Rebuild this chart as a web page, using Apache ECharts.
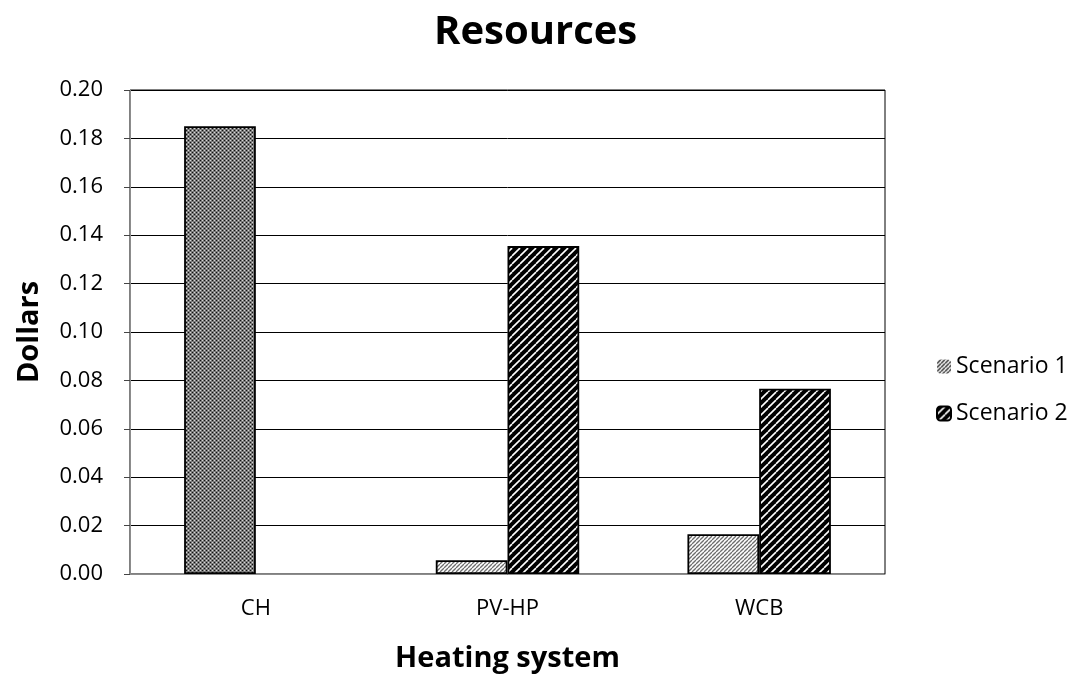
<!DOCTYPE html>
<html><head><meta charset="utf-8">
<script src="https://cdn.jsdelivr.net/npm/echarts@6/dist/echarts.min.js"></script>
<style>html,body{margin:0;padding:0;background:#fff}#c{width:1085px;height:678px}</style>
</head><body><div id="c"></div>
<script>
const categories = ['CH', 'PV-HP', 'WCB'];
const seriesNames = ['Scenario 1', 'Scenario 2'];
const scenario1 = [0.185, 0.0057, 0.0164];
const scenario2 = [null, 0.1355, 0.0766];
const yTicks = [0, 0.02, 0.04, 0.06, 0.08, 0.10, 0.12, 0.14, 0.16, 0.18, 0.20];

function stripe(p, bg, fg, lw) {
  const c = document.createElement('canvas');
  c.width = p; c.height = p;
  const x = c.getContext('2d');
  x.fillStyle = bg; x.fillRect(0, 0, p, p);
  x.strokeStyle = fg; x.lineWidth = lw;
  for (let k = -1; k <= 1; k++) {
    x.beginPath();
    x.moveTo(k * p, p); x.lineTo(k * p + p, 0);
    x.stroke();
  }
  return c;
}
function cross() {
  const c = document.createElement('canvas');
  c.width = 4; c.height = 4;
  const x = c.getContext('2d');
  x.fillStyle = '#7a7a7a'; x.fillRect(0, 0, 4, 4);
  x.fillStyle = '#111';
  x.fillRect(0, 0, 1, 1); x.fillRect(2, 2, 1, 1);
  x.fillStyle = '#d8d8d8';
  x.fillRect(2, 0, 1, 1); x.fillRect(0, 2, 1, 1);
  return c;
}
const pat1 = { image: stripe(4, '#ffffff', '#6e6e6e', 1.3), repeat: 'repeat' };
const pat1Legend = { image: stripe(4, '#ffffff', '#333333', 1.5), repeat: 'repeat' };
const pat2 = { image: stripe(8, '#000000', '#ffffff', 1.6), repeat: 'repeat' };
const patCH = { image: cross(), repeat: 'repeat' };

const s1Data = scenario1.map((v, i) => i === 0
  ? { value: v, itemStyle: { color: patCH } }
  : v);

const FONT = 'Open Sans';
const chart = echarts.init(document.getElementById('c'));
chart.setOption({
  animation: false,
  title: {
    text: 'Resources', left: 429, top: 8,
    textStyle: { fontFamily: FONT, fontWeight: 'bold', fontSize: 40, color: '#000' }
  },
  legend: {
    orient: 'vertical', left: 931, top: 350, itemGap: 24,
    itemWidth: 14, itemHeight: 14,
    textStyle: { fontFamily: FONT, fontSize: 23, color: '#000' },
    data: [
      { name: seriesNames[0], itemStyle: { color: pat1Legend, borderWidth: 0 } },
      { name: seriesNames[1] }
    ]
  },
  grid: { left: 130, right: 200, top: 90, bottom: 100, show: true, borderColor: '#000', borderWidth: 1 },
  xAxis: {
    type: 'category', data: categories,
    name: 'Heating system', nameLocation: 'middle', nameGap: 70,
    nameTextStyle: { fontFamily: FONT, fontWeight: 'bold', fontSize: 29, color: '#000' },
    axisLine: { lineStyle: { color: '#8c8c8c', width: 1 } },
    axisTick: { show: false },
    axisLabel: { fontFamily: FONT, fontSize: 22, color: '#000', margin: 24 }
  },
  yAxis: {
    type: 'value', min: 0, max: 0.20, interval: 0.02,
    name: 'Dollars', nameLocation: 'middle', nameGap: 86,
    nameTextStyle: { fontFamily: FONT, fontWeight: 'bold', fontSize: 29, color: '#000' },
    axisLine: { show: true, lineStyle: { color: '#8c8c8c', width: 1 } },
    axisTick: { show: true, length: 6, lineStyle: { color: '#444' } },
    splitLine: { lineStyle: { color: '#000', width: 1 } },
    axisLabel: {
      fontFamily: FONT, fontSize: 22, color: '#000', margin: 27,
      formatter: v => yTicks.find(t => Math.abs(t - v) < 1e-9) !== undefined ? v.toFixed(2) : ''
    }
  },
  series: [
    { name: seriesNames[0], type: 'bar', data: s1Data, barGap: '0%', barCategoryGap: '43%',
      itemStyle: { color: pat1, borderColor: '#000', borderWidth: 1.8 } },
    { name: seriesNames[1], type: 'bar', data: scenario2,
      itemStyle: { color: pat2, borderColor: '#000', borderWidth: 1.8 } }
  ]
});
</script></body></html>
